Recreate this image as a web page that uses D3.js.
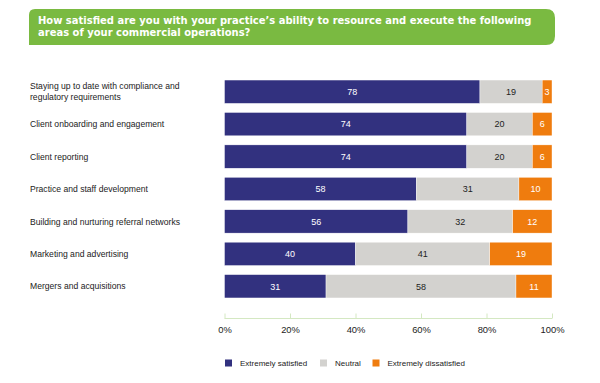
<!DOCTYPE html>
<html><head><meta charset="utf-8">
<script src="https://cdn.jsdelivr.net/npm/d3@7"></script>
<style>body{margin:0;background:#fff}svg{display:block}</style>
</head><body>
<svg id="c" width="600" height="383"></svg>
<script>
const categories = [
  ["Staying up to date with compliance and", "regulatory requirements"],
  ["Client onboarding and engagement"],
  ["Client reporting"],
  ["Practice and staff development"],
  ["Building and nurturing referral networks"],
  ["Marketing and advertising"],
  ["Mergers and acquisitions"]
];
const satisfied = [78, 74, 74, 58, 56, 40, 31];
const neutral = [19, 20, 20, 31, 32, 41, 58];
const dissatisfied = [3, 6, 6, 10, 12, 19, 11];
const seriesNames = ["Extremely satisfied", "Neutral", "Extremely dissatisfied"];
const tickValues = [0, 20, 40, 60, 80, 100];
const titleLines = ["How satisfied are you with your practice\u2019s ability to resource and execute the following", "areas of your commercial operations?"];

const colors = ["#32317f", "#d3d2cf", "#ef7c0e"];
const textColors = ["#ffffff", "#222222", "#ffffff"];
const font = "'Liberation Sans', Arial, Helvetica, sans-serif";

const svg = d3.select("#c");

// Title banner
const bx = 29, by = 9, bw = 526, bh = 36, r = 9, r0 = 6;
svg.append("path")
  .attr("d", `M${bx},${by+r0} Q${bx},${by} ${bx+r0},${by} L${bx+bw-r},${by} Q${bx+bw},${by} ${bx+bw},${by+r} L${bx+bw},${by+bh-r} Q${bx+bw},${by+bh} ${bx+bw-r},${by+bh} L${bx},${by+bh} Z`)
  .attr("fill", "#7aba41");
const tt = svg.append("g").selectAll("text").data(titleLines).join("text")
  .attr("x", 38).attr("y", (d, i) => 23.5 + i * 12.5)
  .attr("fill", "#fff").attr("font-family", "'DejaVu Sans', sans-serif")
  .attr("font-weight", "bold").attr("font-size", "10px")
  .text(d => d);
// fit first title line to the reference width
const w0 = tt.nodes()[0].getComputedTextLength();
const fs = Math.min(11, 10 * 494 / w0);
tt.attr("font-size", fs + "px");

const x = d3.scaleLinear().domain([0, 100]).range([224.5, 552]);
const y = d3.scaleBand().domain(d3.range(categories.length)).range([75.5, 302.5]).paddingInner(0.28).paddingOuter(0.14);

const stackData = categories.map((c, i) => ({ i, s0: satisfied[i], s1: neutral[i], s2: dissatisfied[i] }));
const stack = d3.stack().keys(["s0", "s1", "s2"]).offset(d3.stackOffsetExpand)(stackData);
const raw = [satisfied, neutral, dissatisfied];

const g = svg.append("g");
stack.forEach((layer, k) => {
  const lg = g.append("g");
  lg.selectAll("rect").data(layer).join("rect")
    .attr("x", d => x(d[0] * 100)).attr("y", d => y(d.data.i))
    .attr("width", d => x(d[1] * 100) - x(d[0] * 100)).attr("height", y.bandwidth())
    .attr("fill", colors[k]).attr("stroke", "#fff").attr("stroke-width", 0.4);
  lg.selectAll("text").data(layer).join("text")
    .attr("x", d => (x(d[0] * 100) + x(d[1] * 100)) / 2)
    .attr("y", d => y(d.data.i) + y.bandwidth() / 2 + 3.3)
    .attr("text-anchor", "middle").attr("font-family", font).attr("font-size", "9px")
    .attr("fill", textColors[k])
    .text(d => raw[k][d.data.i]);
});

// Category labels
const lab = svg.append("g");
categories.forEach((lines, i) => {
  const cy = y(i) + y.bandwidth() / 2;
  const n = lines.length;
  lines.forEach((t, j) => {
    lab.append("text").attr("x", 30)
      .attr("y", cy + 3.2 + (j - (n - 1) / 2) * 11)
      .attr("font-family", font).attr("font-size", "8.6px").attr("fill", "#222")
      .text(t);
  });
});

// Axis
const axis = d3.axisTop(x).tickValues(tickValues).tickSize(5).tickFormat(d => d + "%");
const ag = svg.append("g").attr("transform", "translate(0,318.5)").call(axis);
ag.select(".domain").attr("stroke", "#d4e8c2").attr("d", `M${x(0)},0H${x(100)}`);
ag.selectAll(".tick line").attr("stroke", "#d4e8c2");
ag.selectAll(".tick text").attr("y", 14.5).attr("dy", 0).attr("font-family", font)
  .attr("font-size", "9.4px").attr("fill", "#222");

// Legend
const legX = [225, 320, 372.5];
const lg = svg.append("g");
seriesNames.forEach((n, k) => {
  lg.append("rect").attr("x", legX[k]).attr("y", 359.5).attr("width", 7).attr("height", 7).attr("fill", colors[k]);
  lg.append("text").attr("x", legX[k] + 15).attr("y", 366).attr("font-family", font)
    .attr("font-size", "8px").attr("fill", "#222").text(n);
});
</script>
</body></html>
